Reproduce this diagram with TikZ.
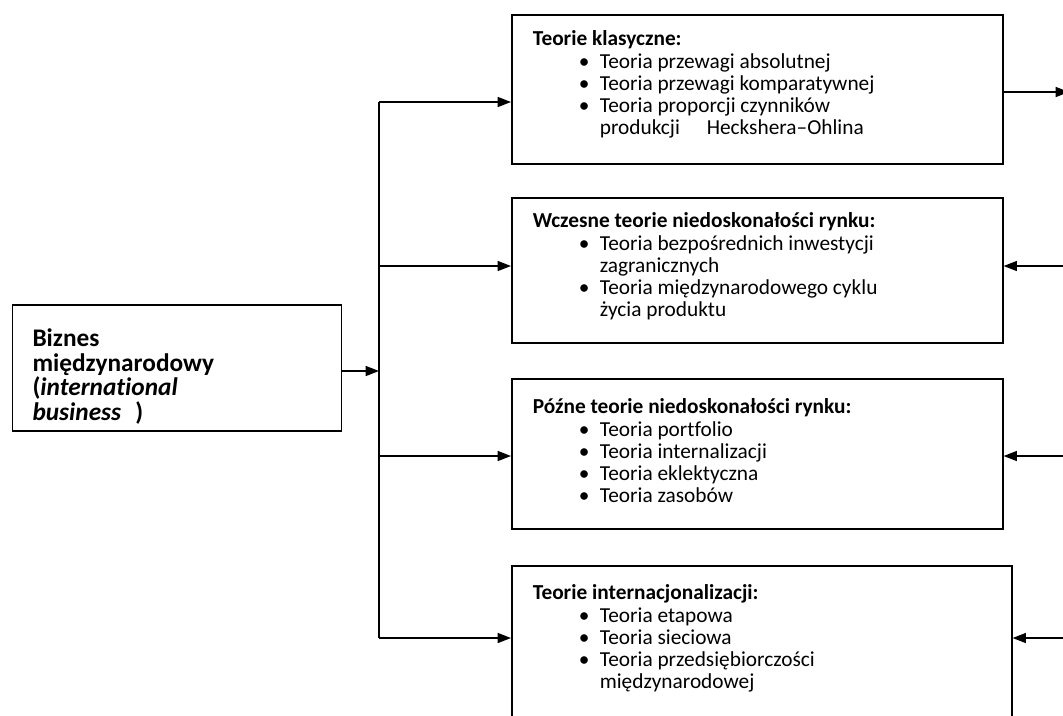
\documentclass[tikz,border=0pt]{standalone}
\usepackage{fontspec}
\setmainfont{Carlito}[Ligatures={NoCommon}]
\usetikzlibrary{arrows.meta}

% one pixel of the layout grid
\newdimen\px \px=0.75pt

% top-aligned box content: width, height, first baseline, body
\newcommand\panelbody[4]{%
  \parbox[t][#2][t]{#1}{\lineskiplimit=-100pt\rule{0pt}{#3}#4}}
% heading, bullet item and continuation line
\newcommand\ttl[1]{\hspace*{21\px}\textbf{#1}}
\newcommand\itm[1]{\\\hspace*{67\px}\makebox[21\px][l]{\textbullet}#1}
\newcommand\cnt[1]{\\\hspace*{88\px}#1}

\tikzset{
  panel/.style={draw, line width=1.2pt, inner sep=0pt, anchor=north west,
    font=\fontsize{16pt}{16.7pt}\selectfont},
  arr/.style={-{Triangle[length=10pt,width=7.5pt]}, line width=1.1pt},
  wire/.style={line width=1.1pt}
}

\begin{document}
\begin{tikzpicture}[x=0.75pt, y=-0.75pt]
\useasboundingbox (0,0) rectangle (1063,715);
\clip (0,0) rectangle (1063,715);

% main box
\node[panel, font=\fontsize{19pt}{18.4pt}\selectfont\bfseries] (biz) at (11.7,304)
  {\panelbody{329\px}{126\px}{42\px}{%
    \hspace*{20\px}Biznes\\
    \hspace*{20\px}międzynarodowy\\
    \hspace*{20\px}(\textit{international}\\
    \hspace*{20\px}\textit{business}\hspace{14\px})}};

% groups of theories
\node[panel] (b1) at (511,14)
  {\panelbody{491\px}{149\px}{31\px}{%
    \ttl{Teorie klasyczne:}%
    \itm{Teoria przewagi absolutnej}%
    \itm{Teoria przewagi komparatywnej}%
    \itm{Teoria proporcji czynników}%
    \cnt{produkcji\hspace{22\px} Heckshera–Ohlina}}};

\node[panel] (b2) at (511,197)
  {\panelbody{491\px}{145\px}{30\px}{%
    \ttl{Wczesne teorie niedoskonałości rynku:}%
    \itm{Teoria bezpośrednich inwestycji}%
    \cnt{zagranicznych}%
    \itm{Teoria międzynarodowego cyklu}%
    \cnt{życia produktu}}};

\node[panel] (b3) at (511,378)
  {\panelbody{491\px}{150\px}{35\px}{%
    \ttl{Późne teorie niedoskonałości rynku:}%
    \itm{Teoria portfolio}%
    \itm{Teoria internalizacji}%
    \itm{Teoria eklektyczna}%
    \itm{Teoria zasobów}}};

\node[panel] (b4) at (511,565)
  {\panelbody{500\px}{175\px}{34\px}{%
    \ttl{Teorie internacjonalizacji:}%
    \itm{Teoria etapowa}%
    \itm{Teoria sieciowa}%
    \itm{Teoria przedsiębiorczości}%
    \cnt{międzynarodowej}}};

% distribution line
\coordinate (j0) at (379,371);
\coordinate (j1) at (379,102);
\coordinate (j2) at (379,266);
\coordinate (j3) at (379,456);
\coordinate (j4) at (379,638);
\draw[arr] (biz.east |- j0) -- (j0);
\draw[wire] (j1) -- (j4);
\draw[arr] (j1) -- (j1 -| b1.west);
\draw[arr] (j2) -- (j2 -| b2.west);
\draw[arr] (j3) -- (j3 -| b3.west);
\draw[arr] (j4) -- (j4 -| b4.west);

% links on the right
\coordinate (r1) at (1069,92);
\coordinate (r2) at (1075,266);
\coordinate (r3) at (1075,456);
\coordinate (r4) at (1075,638);
\draw[arr] (r1 -| b1.east) -- (r1);
\draw[arr] (r2) -- (r2 -| b2.east);
\draw[arr] (r3) -- (r3 -| b3.east);
\draw[arr] (r4) -- (r4 -| b4.east);
\end{tikzpicture}
\end{document}
